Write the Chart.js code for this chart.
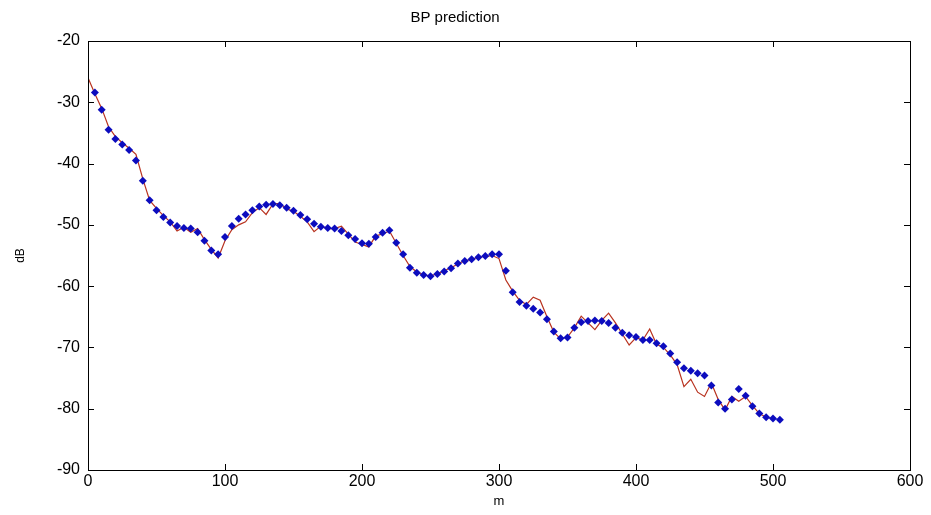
<!DOCTYPE html>
<html>
<head>
<meta charset="utf-8">
<script src="https://cdn.jsdelivr.net/npm/chart.js@4.4.1/dist/chart.umd.min.js"></script>
<style>
    html, body { margin: 0; padding: 0; background: #fff; }
    #wrap { width: 931px; height: 515px; }
</style>
</head>
<body>
<div id="wrap"><canvas id="bpChart" width="931" height="515"></canvas></div>
<script>
// distance in m (every 5 m)
const distance = [
    0, 5, 10, 15, 20, 25, 30, 35, 40, 45, 50, 55, 60, 65, 70, 75, 80, 85, 90, 95,
    100, 105, 110, 115, 120, 125, 130, 135, 140, 145, 150, 155, 160, 165, 170, 175, 180, 185, 190, 195,
    200, 205, 210, 215, 220, 225, 230, 235, 240, 245, 250, 255, 260, 265, 270, 275, 280, 285, 290, 295,
    300, 305, 310, 315, 320, 325, 330, 335, 340, 345, 350, 355, 360, 365, 370, 375, 380, 385, 390, 395,
    400, 405, 410, 415, 420, 425, 430, 435, 440, 445, 450, 455, 460, 465, 470, 475, 480, 485, 490, 495,
    500, 505
];

// BP predicted path loss (blue diamonds), dB
const predicted = [
    null, -28.4, -31.2, -34.5, -36.0, -36.9, -37.8, -39.5, -42.8, -46.0, -47.6, -48.7, -49.6, -50.2, -50.5, -50.6, -51.2, -52.6, -54.2, -54.8,
    -52.0, -50.2, -49.0, -48.3, -47.6, -47.0, -46.7, -46.6, -46.8, -47.2, -47.7, -48.4, -49.1, -49.8, -50.3, -50.5, -50.6, -51.0, -51.7, -52.3,
    -53.0, -53.1, -52.0, -51.3, -50.9, -52.9, -54.8, -57.0, -57.8, -58.2, -58.4, -58.0, -57.6, -57.1, -56.3, -55.9, -55.6, -55.3, -55.1, -54.8,
    -54.8, -57.5, -61.0, -62.6, -63.2, -63.7, -64.3, -65.4, -67.4, -68.5, -68.4, -66.8, -65.9, -65.7, -65.6, -65.7, -66.0, -66.8, -67.6, -68.0,
    -68.3, -68.8, -68.8, -69.3, -69.8, -71.0, -72.4, -73.4, -73.8, -74.2, -74.6, -76.2, -79.0, -80.0, -78.5, -76.8, -77.9, -79.6, -80.8, -81.4,
    -81.6, -81.8
];

// measured path loss (red line), dB
const measured = [
    -26.0, -28.6, -31.0, -34.0, -35.6, -36.6, -37.5, -38.5, -42.5, -46.0, -47.3, -48.5, -49.5, -51.0, -50.4, -51.2, -50.6, -52.4, -54.0, -55.4,
    -52.6, -50.8, -50.0, -49.5, -48.0, -47.2, -48.3, -46.6, -46.5, -47.4, -47.8, -48.6, -49.5, -51.1, -50.2, -50.6, -50.6, -50.2, -51.5, -52.8,
    -53.2, -53.6, -51.8, -51.5, -51.0, -53.0, -55.0, -56.8, -57.7, -58.2, -58.3, -58.0, -57.5, -57.0, -56.4, -55.8, -55.7, -55.2, -55.2, -55.0,
    -55.5, -59.0, -60.8, -62.3, -63.0, -61.8, -62.3, -65.0, -67.5, -68.6, -68.3, -66.8, -64.9, -66.0, -67.1, -65.6, -64.4, -66.0, -67.8, -69.6,
    -68.4, -68.8, -67.0, -69.5, -70.0, -71.2, -72.8, -76.4, -75.2, -77.3, -78.0, -75.8, -78.5, -80.2, -78.0, -78.8, -78.0, -79.5, -80.8, -81.4,
    -81.6, null
];

const xTicks = [0, 100, 200, 300, 400, 500, 600];
const yTicks = [-90, -80, -70, -60, -50, -40, -30, -20];

const toPoints = (xs, ys) => xs.map((x, i) => ({ x: x, y: ys[i] })).filter(p => p.y !== null);

// MATLAB-like box with inward ticks
const boxTicks = {
    id: 'boxTicks',
    afterDraw(chart) {
        const { ctx, chartArea: a, scales } = chart;
        const len = 6;
        ctx.save();
        ctx.strokeStyle = '#000';
        ctx.lineWidth = 1;
        ctx.strokeRect(Math.round(a.left) + 0.5, Math.round(a.top) + 0.5,
            Math.round(a.right - a.left), Math.round(a.bottom - a.top));
        ctx.beginPath();
        xTicks.forEach(v => {
            const px = Math.round(scales.x.getPixelForValue(v)) + 0.5;
            ctx.moveTo(px, a.bottom); ctx.lineTo(px, a.bottom - len);
            ctx.moveTo(px, a.top); ctx.lineTo(px, a.top + len);
        });
        yTicks.forEach(v => {
            const py = Math.round(scales.y.getPixelForValue(v)) + 0.5;
            ctx.moveTo(a.left, py); ctx.lineTo(a.left + len, py);
            ctx.moveTo(a.right, py); ctx.lineTo(a.right - len, py);
        });
        ctx.stroke();
        ctx.restore();
    }
};

const tickFont = { family: 'Liberation Sans, Arial, sans-serif', size: 16 };

new Chart(document.getElementById('bpChart').getContext('2d'), {
    type: 'scatter',
    data: {
        datasets: [{
            label: 'measured',
            data: toPoints(distance, measured),
            showLine: true,
            borderColor: '#b8321f',
            borderWidth: 1.2,
            pointRadius: 0,
            tension: 0,
            order: 2
        }, {
            label: 'BP prediction',
            data: toPoints(distance, predicted),
            showLine: false,
            pointStyle: 'rectRot',
            pointRadius: 4,
            backgroundColor: '#0c0cbe',
            borderColor: '#0c0cbe',
            borderWidth: 0,
            order: 1
        }]
    },
    options: {
        responsive: false,
        animation: false,
        layout: {
            padding: { left: 0, right: 21, top: 4, bottom: 0 }
        },
        plugins: {
            legend: { display: false },
            tooltip: { enabled: false },
            title: {
                display: true,
                text: 'BP prediction',
                color: '#000',
                font: { family: 'Liberation Sans, Arial, sans-serif', size: 15, weight: 'normal' },
                padding: { top: 5, bottom: 14 }
            }
        },
        scales: {
            x: {
                type: 'linear',
                min: 0,
                max: 600,
                afterBuildTicks: s => { s.ticks = xTicks.map(v => ({ value: v })); },
                afterFit: s => { s.height = 45; },
                grid: { display: false, drawTicks: false },
                border: { display: false },
                ticks: { color: '#000', font: tickFont, padding: 2, maxRotation: 0 },
                title: {
                    display: true,
                    text: 'm',
                    color: '#000',
                    font: { family: 'Liberation Sans, Arial, sans-serif', size: 13 },
                    padding: { top: 0, bottom: 6 }
                }
            },
            y: {
                type: 'linear',
                min: -90,
                max: -20,
                afterBuildTicks: s => { s.ticks = yTicks.map(v => ({ value: v })); },
                afterFit: s => { s.width = 88; },
                grid: { display: false, drawTicks: false },
                border: { display: false },
                ticks: { color: '#000', font: tickFont, padding: 8 },
                title: {
                    display: true,
                    text: 'dB',
                    color: '#000',
                    font: { family: 'Liberation Sans, Arial, sans-serif', size: 12 },
                    padding: { top: 13, bottom: 0 }
                }
            }
        }
    },
    plugins: [boxTicks]
});
</script>
</body>
</html>
